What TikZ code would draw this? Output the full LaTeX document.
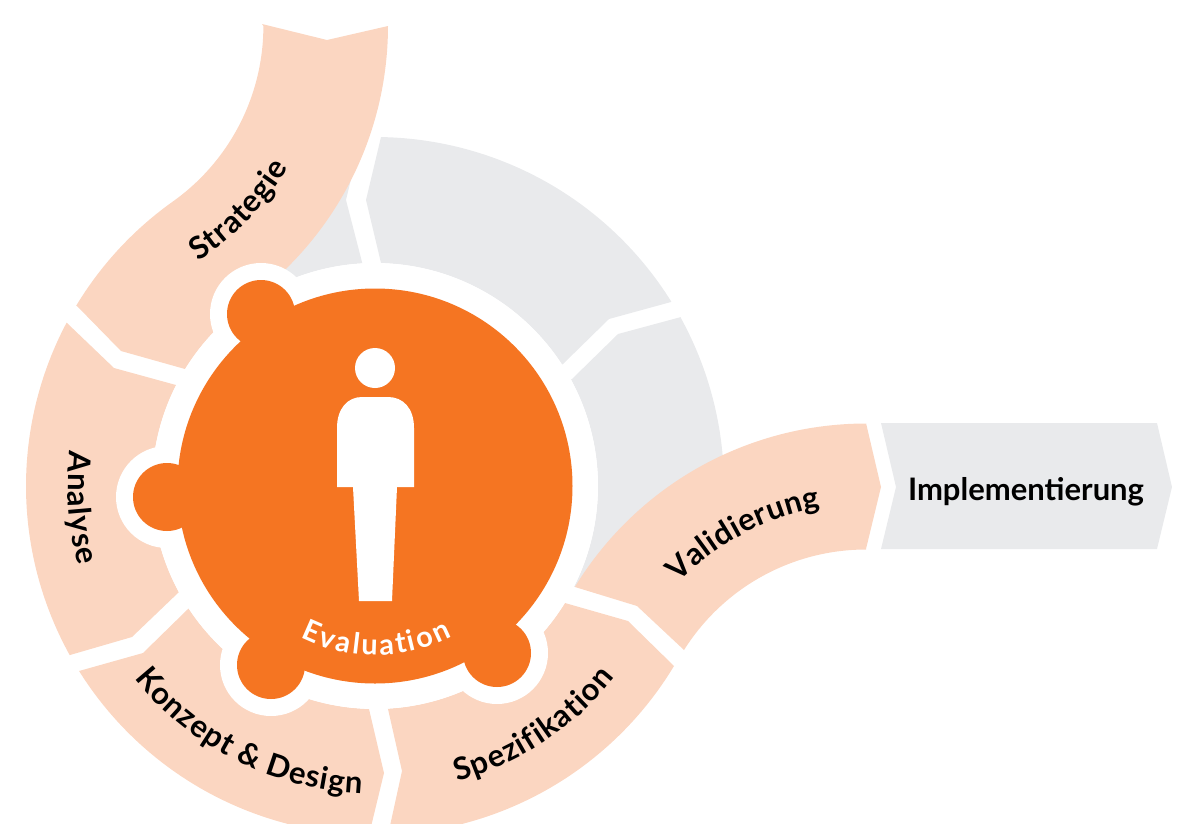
\documentclass[tikz,border=0pt]{standalone}
\usepackage{fontspec}
\setmainfont{Lato}
\usetikzlibrary{decorations.text}
\definecolor{peachc}{HTML}{FBD6C1}
\definecolor{greyc}{HTML}{E9EAEC}
\definecolor{orangec}{HTML}{F57522}
\newcommand{\rarc}[5]{-- plot[domain=#4:#5,samples=60,variable=\t] ({#1+#3*cos(\t)},{#2+#3*sin(\t)})}
\newcommand{\lblfont}{\fontsize{31}{31}\selectfont\bfseries}
\newcommand{\evfont}{\fontsize{29}{29}\selectfont\bfseries}
\tikzset{
  peachseg/.style={fill=peachc,draw=none},
  greyseg/.style={fill=greyc,draw=none},
  halo/.style={fill=white,draw=none},
  hub/.style={fill=orangec,draw=none},
  figure part/.style={fill=white,draw=none},
  curved label/.style n args={4}{decorate,decoration={text effects along path,text={#1},text align=center,
     text effects/.cd,text along path,
     characters={text=#3,font=#2,inner xsep=0pt},
     character widths={font=#2,inner xsep=#4}}},
}
\begin{document}
\begin{tikzpicture}[x=1pt,y=-1pt]
\path[use as bounding box,clip] (0,0) rectangle (1184,823);
% grey segments
\fill[greyseg] (362,262) -- (346,200) -- (352,175) -- (320,170) -- (270,260) -- (281,284) \rarc{375}{486}{223}{245}{266.7} -- cycle;
\fill[greyseg] (381,137) \rarc{375}{486}{349}{-89}{-31.9} -- (671,302) -- (609,319) -- (563,364) \rarc{375}{486}{223}{-33}{-88.5} -- (381,263) -- (366,200) -- cycle;
\fill[greyseg] (681,317) \rarc{375}{486}{349}{-28.9}{20} -- (600,560) -- (575,587) \rarc{375}{486}{223}{26.8}{-28.5} -- (572,379) -- (618,334) -- cycle;
\fill[greyseg] (881,423) -- (1157,423) -- (1172,487) -- (1157,549) -- (881,549) -- (896,487) -- cycle;
% peach segments
\fill[peachseg] (262,24) -- (327,40) -- (388,26) \rarc{48}{26}{340}{0}{54.6} \rarc{375}{486}{223}{234.6}{211.6} -- (185,369) -- (121,351) -- (76,305) \rarc{375}{486}{349}{211.2}{234.6} \rarc{48}{26}{215.4}{54.6}{0} -- cycle;
\fill[peachseg] (67,323) -- (114,368) -- (176,385) \rarc{375}{486}{223}{206.9}{151.6} -- (179,592) -- (132,637) -- (70,655) \rarc{375}{486}{349}{151}{207.9} -- cycle;
\fill[peachseg] (188,609) -- (143,653) -- (79,671) \rarc{375}{486}{349}{148}{91} -- (369,835) -- (384,773) -- (369,709) \rarc{375}{486}{223}{91.5}{146.7} -- cycle;
\fill[peachseg] (388,709) -- (402,771) -- (388,835) \rarc{375}{486}{349}{87.9}{31} -- (674,666) -- (628,621) -- (565,603) \rarc{375}{486}{223}{31.6}{86.7} -- cycle;
\fill[peachseg] (575,587) -- (637,606) -- (684,650) \rarc{866}{764.5}{215}{212.2}{270} -- (866,549) -- (881,487) -- (866,423) \rarc{866}{764.5}{341}{270}{211.4} -- cycle;
% hub halo and hub
\fill[halo] (375,486) circle[radius=223];
\foreach \p in {(261,314),(167,497),(271,665),(497,653)} \fill[halo] \p circle[radius=51];
\fill[hub] (375,486) circle[radius=197.5];
\foreach \p in {(261,314),(167,497),(271,665),(497,653)} \fill[hub] \p circle[radius=34];
% figure
\fill[figure part] (375,368) circle[radius=20];
\fill[figure part] (337,487) -- (337,428) .. controls (337,408) and (348,397) .. (362,397) -- (388,397) .. controls (403,397) and (414,408) .. (414,428) -- (414,487) -- (397,487) -- (392,601) -- (359,601) -- (353,487) -- cycle;
% labels
\node[inner sep=0pt,anchor=base] (impl) at (1026,500) {\lblfont Implementierung};
\path[curved label={Strategie}{\lblfont}{black}{0.4pt}]
  plot[domain=70:18,samples=60,variable=\t] ({48+279*cos(\t)},{26+279*sin(\t)});
\path[curved label={Analyse}{\lblfont}{black}{0.6pt}]
  plot[domain=200:151.6,samples=60,variable=\t] ({375+307*cos(\t)},{486+307*sin(\t)});
\path[curved label={Konzept \& Design}{\lblfont}{black}{0.45pt}]
  plot[domain=170:63.8,samples=90,variable=\t] ({375+308*cos(\t)},{486+308*sin(\t)});
\path[curved label={Spezifikation}{\lblfont}{black}{0.55pt}]
  plot[domain=85:28,samples=60,variable=\t] ({375+307*cos(\t)},{486+307*sin(\t)});
\path[curved label={Validierung}{\lblfont}{black}{0.3pt}]
  plot[domain=215:269,samples=60,variable=\t] ({866+261*cos(\t)},{764.5+261*sin(\t)});
\path[curved label={Evaluation}{\evfont}{white}{1.2pt}]
  plot[domain=125:54,samples=60,variable=\t] ({375+169*cos(\t)},{486+169*sin(\t)});
\end{tikzpicture}
\end{document}
